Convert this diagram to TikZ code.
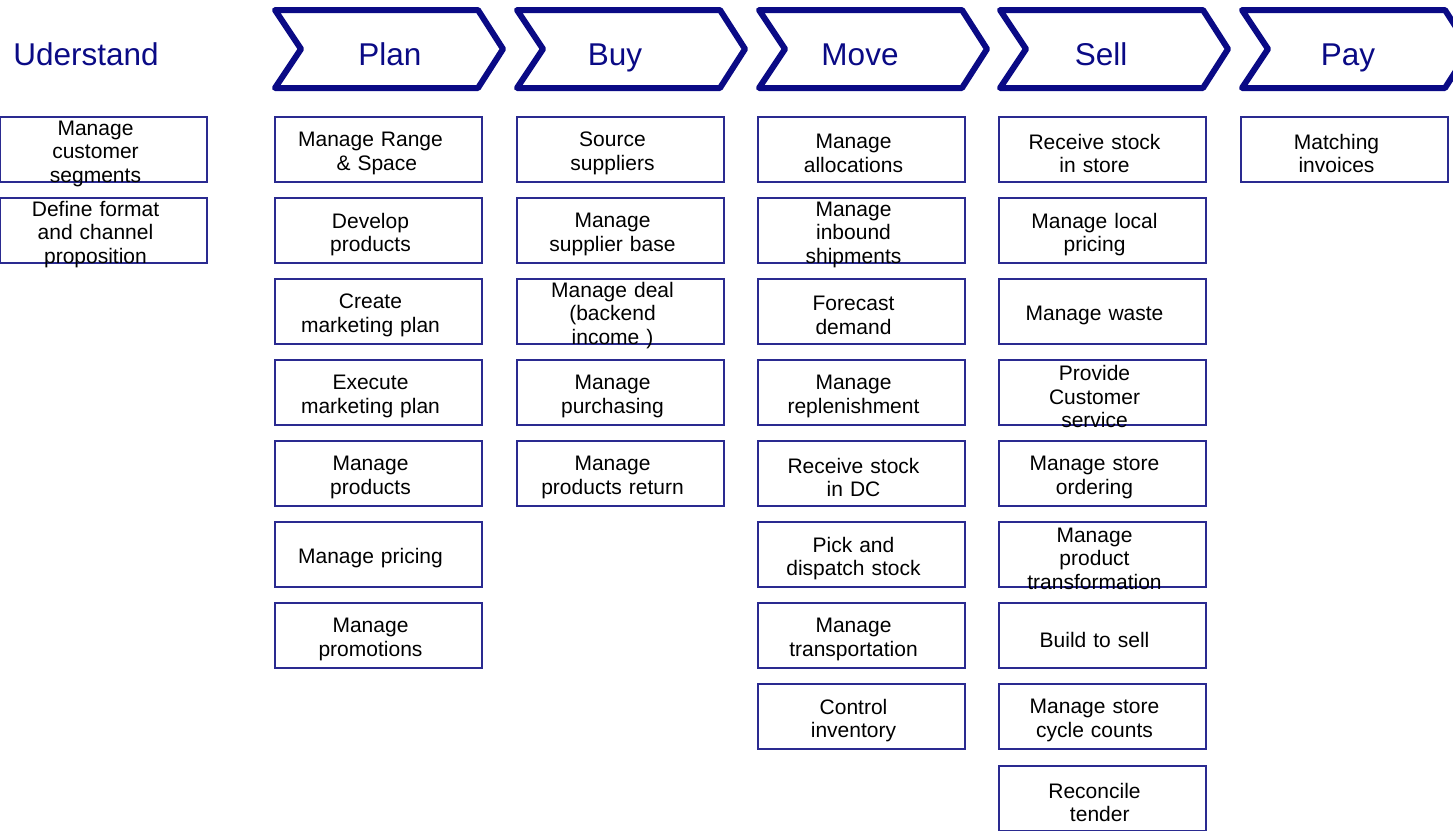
\documentclass[tikz,border=0pt]{standalone}
\usepackage{fontspec}
\setmainfont{Liberation Sans}
\definecolor{navy}{HTML}{0A0A85}
\definecolor{boxline}{HTML}{2A2A90}
\newcommand{\tasknode}[4]{%
  \node[taskbox] (#1) at (#2,#3) {};
  \node[tasktext] (#1t) at (#1.center) {#4};
}
\begin{document}
\begin{tikzpicture}[x=1pt,y=-1pt,
  chev/.style={draw=navy,line width=6pt,line join=round,fill=white},
  head/.style={text=navy,font=\fontsize{31.5}{36}\selectfont,anchor=base,inner sep=0},
  taskbox/.style={draw=boxline,line width=1.1pt,fill=white,minimum width=207pt,minimum height=65pt,inner sep=0pt},
  tasktext/.style={inner sep=0pt,text width=205pt,align=center,xshift=-8pt,yshift=-4pt,
    font=\fontsize{21}{23.5}\selectfont}]
\useasboundingbox (0,0) rectangle (1453,830);
% chevrons
\foreach \L in {273,515,757,998,1240}{
  \draw[chev] (\L+2,10) -- (\L+205,10) -- (\L+230,49) -- (\L+205,88) -- (\L+2,88) -- (\L+28,49) -- cycle;
}
\node[head] (hU) at (86,65) {Uderstand};
\node[head] (hPlan) at (390,65) {Plan};
\node[head] (hBuy) at (615,65) {Buy};
\node[head] (hMove) at (860,65) {Move};
\node[head] (hSell) at (1101,65) {Sell};
\node[head] (hPay) at (1348,65) {Pay};
% Understand
\tasknode{u0}{103.5}{149.5}{Manage\\customer\\segments}
\tasknode{u1}{103.5}{230.5}{Define format\\and channel\\proposition}
% Plan
\tasknode{p0}{378.5}{149.5}{Manage Range\\\hspace*{0.6em}\& Space}
\tasknode{p1}{378.5}{230.5}{Develop\\products}
\tasknode{p2}{378.5}{311.5}{Create\\marketing plan}
\tasknode{p3}{378.5}{392.5}{Execute\\marketing plan}
\tasknode{p4}{378.5}{473.5}{Manage\\products}
\tasknode{p5}{378.5}{554.5}{Manage pricing}
\tasknode{p6}{378.5}{635.5}{Manage\\promotions}
% Buy
\tasknode{b0}{620.5}{149.5}{Source\\suppliers}
\tasknode{b1}{620.5}{230.5}{Manage\\supplier base}
\tasknode{b2}{620.5}{311.5}{Manage deal\\(backend\\income )}
\tasknode{b3}{620.5}{392.5}{Manage\\purchasing}
\tasknode{b4}{620.5}{473.5}{Manage\\products return}
% Move
\tasknode{m0}{861.5}{149.5}{Manage\\allocations}
\tasknode{m1}{861.5}{230.5}{Manage\\inbound\\shipments}
\tasknode{m2}{861.5}{311.5}{Forecast\\demand}
\tasknode{m3}{861.5}{392.5}{Manage\\replenishment}
\tasknode{m4}{861.5}{473.5}{Receive stock\\in DC}
\tasknode{m5}{861.5}{554.5}{Pick and\\dispatch stock}
\tasknode{m6}{861.5}{635.5}{Manage\\transportation}
\tasknode{m7}{861.5}{716.5}{Control\\inventory}
% Sell
\tasknode{s0}{1102.5}{149.5}{Receive stock\\in store}
\tasknode{s1}{1102.5}{230.5}{Manage local\\pricing}
\tasknode{s2}{1102.5}{311.5}{Manage waste}
\tasknode{s3}{1102.5}{392.5}{Provide\\Customer\\service}
\tasknode{s4}{1102.5}{473.5}{Manage store\\ordering}
\tasknode{s5}{1102.5}{554.5}{Manage\\product\\transformation}
\tasknode{s6}{1102.5}{635.5}{Build to sell}
\tasknode{s7}{1102.5}{716.5}{Manage store\\cycle counts}
\tasknode{s8}{1102.5}{798.5}{Reconcile\\\hspace*{0.5em}tender}
% Pay
\tasknode{y0}{1344.5}{149.5}{Matching\\invoices}
\end{tikzpicture}
\end{document}
